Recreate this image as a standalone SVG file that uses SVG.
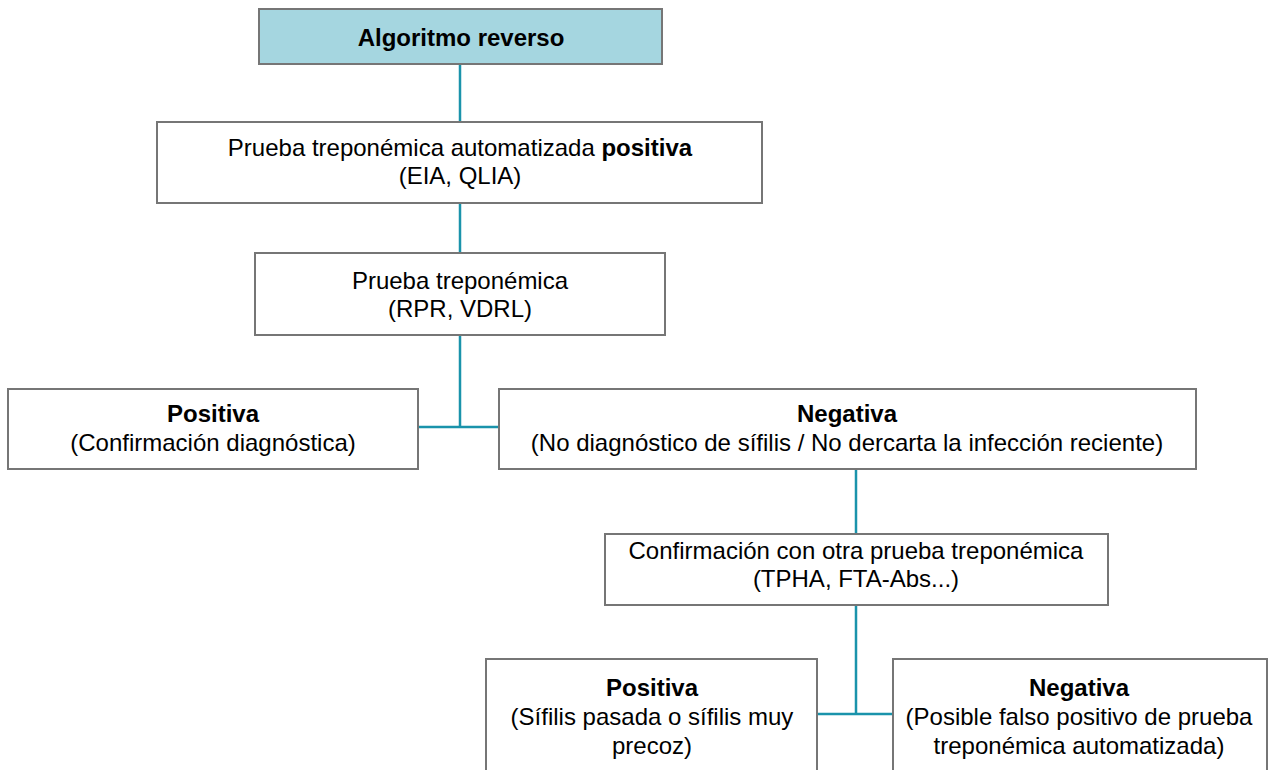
<svg xmlns="http://www.w3.org/2000/svg" width="1271" height="770" viewBox="0 0 1271 770">
<style>
.box{fill:#ffffff;stroke:#767676;stroke-width:2}
.hdr{fill:#a5d6e0;stroke:#767676;stroke-width:2}
.t{font-family:"Liberation Sans",Arial,sans-serif;font-size:24px;fill:#000;text-anchor:middle}
.b{font-weight:bold}
.c{fill:none;stroke:#1a93ab;stroke-width:2.5}
</style>
<rect width="1271" height="770" fill="#ffffff"/>
<g id="connectors">
<path class="c" d="M460,64V122"/>
<path class="c" d="M460,203V253"/>
<path class="c" d="M460,335V427M419,427H499"/>
<path class="c" d="M856,469V534"/>
<path class="c" d="M856,605V714M818,714H893"/>
</g>
<g id="n1">
<rect class="hdr" x="259" y="9" width="403" height="55"/>
<text class="t b" x="461" y="46">Algoritmo reverso</text>
</g>
<g id="n2">
<rect class="box" x="157" y="122" width="605" height="81"/>
<text class="t" x="460" y="156">Prueba treponémica automatizada <tspan class="b">positiva</tspan></text>
<text class="t" x="460" y="184">(EIA, QLIA)</text>
</g>
<g id="n3">
<rect class="box" x="255" y="253" width="410" height="82"/>
<text class="t" x="460" y="289">Prueba treponémica</text>
<text class="t" x="460" y="317">(RPR, VDRL)</text>
</g>
<g id="n4">
<rect class="box" x="8" y="389" width="410" height="80"/>
<text class="t b" x="213" y="422">Positiva</text>
<text class="t" x="213" y="451">(Confirmación diagnóstica)</text>
</g>
<g id="n5">
<rect class="box" x="499" y="389" width="697" height="80"/>
<text class="t b" x="847" y="422">Negativa</text>
<text class="t" x="847" y="451">(No diagnóstico de sífilis / No dercarta la infección reciente)</text>
</g>
<g id="n6">
<rect class="box" x="605" y="534" width="503" height="71"/>
<text class="t" x="856" y="559">Confirmación con otra prueba treponémica</text>
<text class="t" x="856" y="587">(TPHA, FTA-Abs...)</text>
</g>
<g id="n7">
<rect class="box" x="486" y="659" width="331" height="130"/>
<text class="t b" x="652" y="696">Positiva</text>
<text class="t" x="652" y="725">(Sífilis pasada o sífilis muy</text>
<text class="t" x="652" y="754">precoz)</text>
</g>
<g id="n8">
<rect class="box" x="893" y="659" width="374" height="130"/>
<text class="t b" x="1079" y="696">Negativa</text>
<text class="t" x="1079" y="725">(Posible falso positivo de prueba</text>
<text class="t" x="1079" y="754">treponémica automatizada)</text>
</g>
</svg>
